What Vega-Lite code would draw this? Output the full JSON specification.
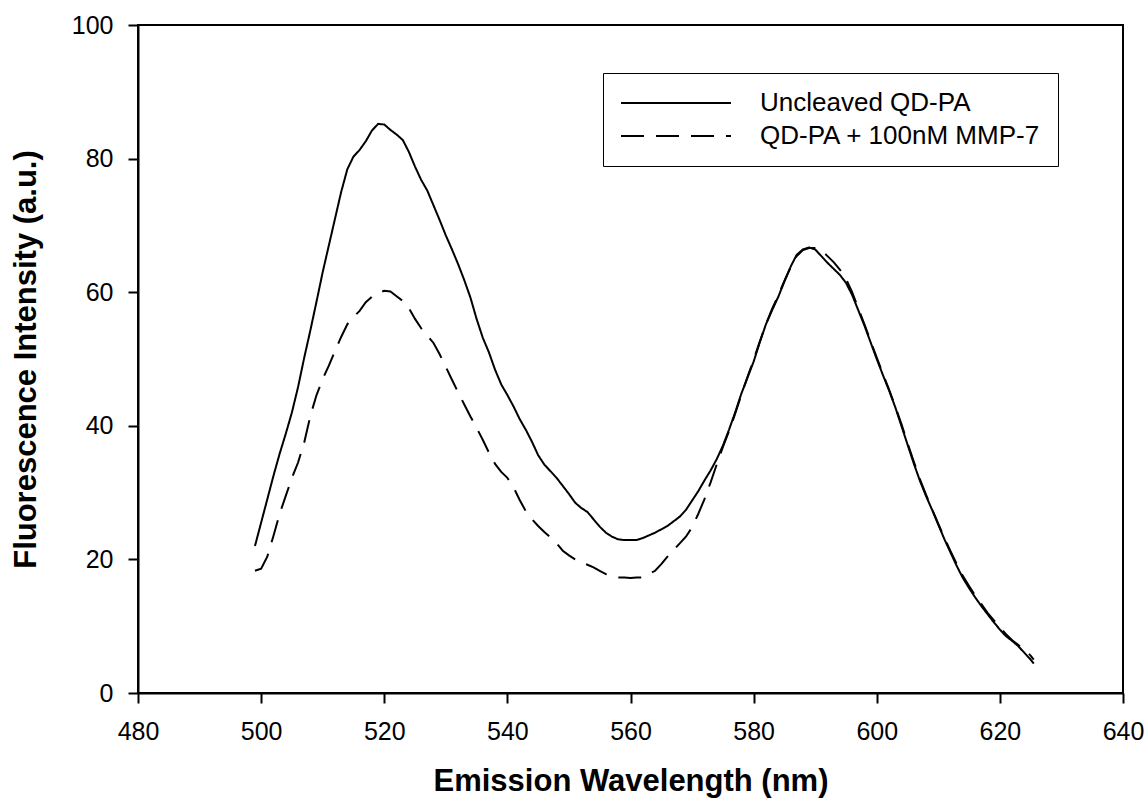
{
  "$schema": "https://vega.github.io/schema/vega-lite/v6.json",
  "width": 985,
  "height": 668,
  "autosize": {"type": "none"},
  "padding": {"left": 138, "top": 25, "right": 25, "bottom": 114},
  "background": "white",
  "config": {
    "view": {"stroke": "black", "strokeWidth": 2},
    "axis": {
      "grid": false,
      "domainColor": "black",
      "domainWidth": 2,
      "tickColor": "black",
      "tickWidth": 2,
      "tickSize": 10,
      "labelFont": "Liberation Sans",
      "labelFontSize": 25,
      "labelColor": "black",
      "titleFont": "Liberation Sans",
      "titleFontSize": 31,
      "titleFontWeight": "bold",
      "titleColor": "black"
    },
    "legend": {
      "labelFont": "Liberation Sans",
      "labelFontSize": 26,
      "labelColor": "black",
      "labelLimit": 500
    }
  },
  "data": {
    "values": [
      {"s":"Uncleaved QD-PA","w":499,"v":22.0},{"s":"Uncleaved QD-PA","w":500,"v":25.5},{"s":"Uncleaved QD-PA","w":501,"v":29.0},{"s":"Uncleaved QD-PA","w":502,"v":32.5},{"s":"Uncleaved QD-PA","w":503,"v":35.8},{"s":"Uncleaved QD-PA","w":504,"v":38.8},{"s":"Uncleaved QD-PA","w":505,"v":42.0},{"s":"Uncleaved QD-PA","w":506,"v":45.8},{"s":"Uncleaved QD-PA","w":507,"v":50.2},{"s":"Uncleaved QD-PA","w":508,"v":54.3},{"s":"Uncleaved QD-PA","w":509,"v":58.6},{"s":"Uncleaved QD-PA","w":510,"v":63.0},{"s":"Uncleaved QD-PA","w":511,"v":67.0},{"s":"Uncleaved QD-PA","w":512,"v":71.0},{"s":"Uncleaved QD-PA","w":513,"v":75.0},{"s":"Uncleaved QD-PA","w":514,"v":78.4},{"s":"Uncleaved QD-PA","w":515,"v":80.3},{"s":"Uncleaved QD-PA","w":516,"v":81.3},{"s":"Uncleaved QD-PA","w":517,"v":82.6},{"s":"Uncleaved QD-PA","w":518,"v":84.2},{"s":"Uncleaved QD-PA","w":519,"v":85.2},{"s":"Uncleaved QD-PA","w":520,"v":85.1},{"s":"Uncleaved QD-PA","w":521,"v":84.3},{"s":"Uncleaved QD-PA","w":522,"v":83.6},{"s":"Uncleaved QD-PA","w":523,"v":82.8},{"s":"Uncleaved QD-PA","w":524,"v":81.0},{"s":"Uncleaved QD-PA","w":525,"v":78.8},{"s":"Uncleaved QD-PA","w":526,"v":76.8},{"s":"Uncleaved QD-PA","w":527,"v":75.2},{"s":"Uncleaved QD-PA","w":528,"v":73.0},{"s":"Uncleaved QD-PA","w":529,"v":70.8},{"s":"Uncleaved QD-PA","w":530,"v":68.5},{"s":"Uncleaved QD-PA","w":531,"v":66.4},{"s":"Uncleaved QD-PA","w":532,"v":64.2},{"s":"Uncleaved QD-PA","w":533,"v":61.8},{"s":"Uncleaved QD-PA","w":534,"v":59.2},{"s":"Uncleaved QD-PA","w":535,"v":56.0},{"s":"Uncleaved QD-PA","w":536,"v":53.2},{"s":"Uncleaved QD-PA","w":537,"v":51.0},{"s":"Uncleaved QD-PA","w":538,"v":48.4},{"s":"Uncleaved QD-PA","w":539,"v":46.2},{"s":"Uncleaved QD-PA","w":540,"v":44.6},{"s":"Uncleaved QD-PA","w":541,"v":42.9},{"s":"Uncleaved QD-PA","w":542,"v":41.0},{"s":"Uncleaved QD-PA","w":543,"v":39.4},{"s":"Uncleaved QD-PA","w":544,"v":37.6},{"s":"Uncleaved QD-PA","w":545,"v":35.6},{"s":"Uncleaved QD-PA","w":546,"v":34.2},{"s":"Uncleaved QD-PA","w":547,"v":33.2},{"s":"Uncleaved QD-PA","w":548,"v":32.2},{"s":"Uncleaved QD-PA","w":549,"v":31.0},{"s":"Uncleaved QD-PA","w":550,"v":29.8},{"s":"Uncleaved QD-PA","w":551,"v":28.5},{"s":"Uncleaved QD-PA","w":552,"v":27.7},{"s":"Uncleaved QD-PA","w":553,"v":27.1},{"s":"Uncleaved QD-PA","w":554,"v":26.0},{"s":"Uncleaved QD-PA","w":555,"v":24.9},{"s":"Uncleaved QD-PA","w":556,"v":24.0},{"s":"Uncleaved QD-PA","w":557,"v":23.4},{"s":"Uncleaved QD-PA","w":558,"v":23.0},{"s":"Uncleaved QD-PA","w":559,"v":22.9},{"s":"Uncleaved QD-PA","w":560,"v":22.9},{"s":"Uncleaved QD-PA","w":561,"v":22.9},{"s":"Uncleaved QD-PA","w":562,"v":23.2},{"s":"Uncleaved QD-PA","w":563,"v":23.6},{"s":"Uncleaved QD-PA","w":564,"v":24.0},{"s":"Uncleaved QD-PA","w":565,"v":24.5},{"s":"Uncleaved QD-PA","w":566,"v":25.0},{"s":"Uncleaved QD-PA","w":567,"v":25.7},{"s":"Uncleaved QD-PA","w":568,"v":26.4},{"s":"Uncleaved QD-PA","w":569,"v":27.4},{"s":"Uncleaved QD-PA","w":570,"v":28.8},{"s":"Uncleaved QD-PA","w":571,"v":30.2},{"s":"Uncleaved QD-PA","w":572,"v":31.8},{"s":"Uncleaved QD-PA","w":573,"v":33.3},{"s":"Uncleaved QD-PA","w":574,"v":35.0},{"s":"Uncleaved QD-PA","w":575,"v":37.0},{"s":"Uncleaved QD-PA","w":576,"v":39.4},{"s":"Uncleaved QD-PA","w":577,"v":42.0},{"s":"Uncleaved QD-PA","w":578,"v":44.8},{"s":"Uncleaved QD-PA","w":579,"v":47.2},{"s":"Uncleaved QD-PA","w":580,"v":49.6},{"s":"Uncleaved QD-PA","w":581,"v":52.5},{"s":"Uncleaved QD-PA","w":582,"v":55.2},{"s":"Uncleaved QD-PA","w":583,"v":57.3},{"s":"Uncleaved QD-PA","w":584,"v":59.3},{"s":"Uncleaved QD-PA","w":585,"v":61.6},{"s":"Uncleaved QD-PA","w":586,"v":63.8},{"s":"Uncleaved QD-PA","w":587,"v":65.6},{"s":"Uncleaved QD-PA","w":588,"v":66.4},{"s":"Uncleaved QD-PA","w":589,"v":66.7},{"s":"Uncleaved QD-PA","w":590,"v":66.4},{"s":"Uncleaved QD-PA","w":591,"v":65.4},{"s":"Uncleaved QD-PA","w":592,"v":64.4},{"s":"Uncleaved QD-PA","w":593,"v":63.5},{"s":"Uncleaved QD-PA","w":594,"v":62.6},{"s":"Uncleaved QD-PA","w":595,"v":61.4},{"s":"Uncleaved QD-PA","w":596,"v":59.6},{"s":"Uncleaved QD-PA","w":597,"v":57.3},{"s":"Uncleaved QD-PA","w":598,"v":55.0},{"s":"Uncleaved QD-PA","w":599,"v":52.5},{"s":"Uncleaved QD-PA","w":600,"v":50.0},{"s":"Uncleaved QD-PA","w":601,"v":47.6},{"s":"Uncleaved QD-PA","w":602,"v":45.3},{"s":"Uncleaved QD-PA","w":603,"v":42.8},{"s":"Uncleaved QD-PA","w":604,"v":40.0},{"s":"Uncleaved QD-PA","w":605,"v":37.2},{"s":"Uncleaved QD-PA","w":606,"v":34.4},{"s":"Uncleaved QD-PA","w":607,"v":31.8},{"s":"Uncleaved QD-PA","w":608,"v":29.5},{"s":"Uncleaved QD-PA","w":609,"v":27.4},{"s":"Uncleaved QD-PA","w":610,"v":25.2},{"s":"Uncleaved QD-PA","w":611,"v":23.0},{"s":"Uncleaved QD-PA","w":612,"v":21.0},{"s":"Uncleaved QD-PA","w":613,"v":19.0},{"s":"Uncleaved QD-PA","w":614,"v":17.2},{"s":"Uncleaved QD-PA","w":615,"v":15.7},{"s":"Uncleaved QD-PA","w":616,"v":14.3},{"s":"Uncleaved QD-PA","w":617,"v":13.0},{"s":"Uncleaved QD-PA","w":618,"v":11.8},{"s":"Uncleaved QD-PA","w":619,"v":10.6},{"s":"Uncleaved QD-PA","w":620,"v":9.5},{"s":"Uncleaved QD-PA","w":621,"v":8.5},{"s":"Uncleaved QD-PA","w":622,"v":7.8},{"s":"Uncleaved QD-PA","w":623,"v":7.0},{"s":"Uncleaved QD-PA","w":624,"v":6.0},{"s":"Uncleaved QD-PA","w":625,"v":5.0},{"s":"Uncleaved QD-PA","w":625.5,"v":4.4},
      {"s":"QD-PA + 100nM MMP-7","w":499,"v":18.3},{"s":"QD-PA + 100nM MMP-7","w":500,"v":18.6},{"s":"QD-PA + 100nM MMP-7","w":501,"v":20.4},{"s":"QD-PA + 100nM MMP-7","w":502,"v":23.5},{"s":"QD-PA + 100nM MMP-7","w":503,"v":26.8},{"s":"QD-PA + 100nM MMP-7","w":504,"v":29.5},{"s":"QD-PA + 100nM MMP-7","w":505,"v":32.2},{"s":"QD-PA + 100nM MMP-7","w":506,"v":34.5},{"s":"QD-PA + 100nM MMP-7","w":507,"v":37.5},{"s":"QD-PA + 100nM MMP-7","w":508,"v":41.5},{"s":"QD-PA + 100nM MMP-7","w":509,"v":44.6},{"s":"QD-PA + 100nM MMP-7","w":510,"v":47.0},{"s":"QD-PA + 100nM MMP-7","w":511,"v":49.0},{"s":"QD-PA + 100nM MMP-7","w":512,"v":51.2},{"s":"QD-PA + 100nM MMP-7","w":513,"v":53.3},{"s":"QD-PA + 100nM MMP-7","w":514,"v":55.2},{"s":"QD-PA + 100nM MMP-7","w":515,"v":56.3},{"s":"QD-PA + 100nM MMP-7","w":516,"v":57.2},{"s":"QD-PA + 100nM MMP-7","w":517,"v":58.5},{"s":"QD-PA + 100nM MMP-7","w":518,"v":59.3},{"s":"QD-PA + 100nM MMP-7","w":519,"v":59.9},{"s":"QD-PA + 100nM MMP-7","w":520,"v":60.2},{"s":"QD-PA + 100nM MMP-7","w":521,"v":60.1},{"s":"QD-PA + 100nM MMP-7","w":522,"v":59.4},{"s":"QD-PA + 100nM MMP-7","w":523,"v":58.7},{"s":"QD-PA + 100nM MMP-7","w":524,"v":57.6},{"s":"QD-PA + 100nM MMP-7","w":525,"v":56.0},{"s":"QD-PA + 100nM MMP-7","w":526,"v":54.6},{"s":"QD-PA + 100nM MMP-7","w":527,"v":53.5},{"s":"QD-PA + 100nM MMP-7","w":528,"v":52.4},{"s":"QD-PA + 100nM MMP-7","w":529,"v":50.7},{"s":"QD-PA + 100nM MMP-7","w":530,"v":48.8},{"s":"QD-PA + 100nM MMP-7","w":531,"v":46.9},{"s":"QD-PA + 100nM MMP-7","w":532,"v":45.0},{"s":"QD-PA + 100nM MMP-7","w":533,"v":43.2},{"s":"QD-PA + 100nM MMP-7","w":534,"v":41.4},{"s":"QD-PA + 100nM MMP-7","w":535,"v":39.7},{"s":"QD-PA + 100nM MMP-7","w":536,"v":37.9},{"s":"QD-PA + 100nM MMP-7","w":537,"v":36.0},{"s":"QD-PA + 100nM MMP-7","w":538,"v":34.3},{"s":"QD-PA + 100nM MMP-7","w":539,"v":33.1},{"s":"QD-PA + 100nM MMP-7","w":540,"v":32.2},{"s":"QD-PA + 100nM MMP-7","w":541,"v":30.8},{"s":"QD-PA + 100nM MMP-7","w":542,"v":28.9},{"s":"QD-PA + 100nM MMP-7","w":543,"v":27.2},{"s":"QD-PA + 100nM MMP-7","w":544,"v":26.0},{"s":"QD-PA + 100nM MMP-7","w":545,"v":25.0},{"s":"QD-PA + 100nM MMP-7","w":546,"v":24.1},{"s":"QD-PA + 100nM MMP-7","w":547,"v":23.3},{"s":"QD-PA + 100nM MMP-7","w":548,"v":22.4},{"s":"QD-PA + 100nM MMP-7","w":549,"v":21.3},{"s":"QD-PA + 100nM MMP-7","w":550,"v":20.6},{"s":"QD-PA + 100nM MMP-7","w":551,"v":20.0},{"s":"QD-PA + 100nM MMP-7","w":552,"v":19.6},{"s":"QD-PA + 100nM MMP-7","w":553,"v":19.2},{"s":"QD-PA + 100nM MMP-7","w":554,"v":18.8},{"s":"QD-PA + 100nM MMP-7","w":555,"v":18.3},{"s":"QD-PA + 100nM MMP-7","w":556,"v":17.8},{"s":"QD-PA + 100nM MMP-7","w":557,"v":17.5},{"s":"QD-PA + 100nM MMP-7","w":558,"v":17.3},{"s":"QD-PA + 100nM MMP-7","w":559,"v":17.3},{"s":"QD-PA + 100nM MMP-7","w":560,"v":17.2},{"s":"QD-PA + 100nM MMP-7","w":561,"v":17.3},{"s":"QD-PA + 100nM MMP-7","w":562,"v":17.3},{"s":"QD-PA + 100nM MMP-7","w":563,"v":17.8},{"s":"QD-PA + 100nM MMP-7","w":564,"v":18.3},{"s":"QD-PA + 100nM MMP-7","w":565,"v":19.3},{"s":"QD-PA + 100nM MMP-7","w":566,"v":20.4},{"s":"QD-PA + 100nM MMP-7","w":567,"v":21.4},{"s":"QD-PA + 100nM MMP-7","w":568,"v":22.4},{"s":"QD-PA + 100nM MMP-7","w":569,"v":23.4},{"s":"QD-PA + 100nM MMP-7","w":570,"v":24.8},{"s":"QD-PA + 100nM MMP-7","w":571,"v":26.8},{"s":"QD-PA + 100nM MMP-7","w":572,"v":29.0},{"s":"QD-PA + 100nM MMP-7","w":573,"v":31.5},{"s":"QD-PA + 100nM MMP-7","w":574,"v":34.2},{"s":"QD-PA + 100nM MMP-7","w":575,"v":36.8},{"s":"QD-PA + 100nM MMP-7","w":576,"v":39.2},{"s":"QD-PA + 100nM MMP-7","w":577,"v":41.8},{"s":"QD-PA + 100nM MMP-7","w":578,"v":44.6},{"s":"QD-PA + 100nM MMP-7","w":579,"v":47.3},{"s":"QD-PA + 100nM MMP-7","w":580,"v":49.9},{"s":"QD-PA + 100nM MMP-7","w":581,"v":52.6},{"s":"QD-PA + 100nM MMP-7","w":582,"v":55.2},{"s":"QD-PA + 100nM MMP-7","w":583,"v":57.5},{"s":"QD-PA + 100nM MMP-7","w":584,"v":59.5},{"s":"QD-PA + 100nM MMP-7","w":585,"v":61.7},{"s":"QD-PA + 100nM MMP-7","w":586,"v":63.7},{"s":"QD-PA + 100nM MMP-7","w":587,"v":65.4},{"s":"QD-PA + 100nM MMP-7","w":588,"v":66.3},{"s":"QD-PA + 100nM MMP-7","w":589,"v":66.6},{"s":"QD-PA + 100nM MMP-7","w":590,"v":66.6},{"s":"QD-PA + 100nM MMP-7","w":591,"v":66.3},{"s":"QD-PA + 100nM MMP-7","w":592,"v":65.4},{"s":"QD-PA + 100nM MMP-7","w":593,"v":64.5},{"s":"QD-PA + 100nM MMP-7","w":594,"v":63.4},{"s":"QD-PA + 100nM MMP-7","w":595,"v":62.0},{"s":"QD-PA + 100nM MMP-7","w":596,"v":60.0},{"s":"QD-PA + 100nM MMP-7","w":597,"v":57.6},{"s":"QD-PA + 100nM MMP-7","w":598,"v":55.2},{"s":"QD-PA + 100nM MMP-7","w":599,"v":52.7},{"s":"QD-PA + 100nM MMP-7","w":600,"v":50.2},{"s":"QD-PA + 100nM MMP-7","w":601,"v":47.8},{"s":"QD-PA + 100nM MMP-7","w":602,"v":45.4},{"s":"QD-PA + 100nM MMP-7","w":603,"v":42.9},{"s":"QD-PA + 100nM MMP-7","w":604,"v":40.3},{"s":"QD-PA + 100nM MMP-7","w":605,"v":37.4},{"s":"QD-PA + 100nM MMP-7","w":606,"v":34.7},{"s":"QD-PA + 100nM MMP-7","w":607,"v":32.0},{"s":"QD-PA + 100nM MMP-7","w":608,"v":29.7},{"s":"QD-PA + 100nM MMP-7","w":609,"v":27.5},{"s":"QD-PA + 100nM MMP-7","w":610,"v":25.3},{"s":"QD-PA + 100nM MMP-7","w":611,"v":23.2},{"s":"QD-PA + 100nM MMP-7","w":612,"v":21.2},{"s":"QD-PA + 100nM MMP-7","w":613,"v":19.3},{"s":"QD-PA + 100nM MMP-7","w":614,"v":17.5},{"s":"QD-PA + 100nM MMP-7","w":615,"v":16.0},{"s":"QD-PA + 100nM MMP-7","w":616,"v":14.6},{"s":"QD-PA + 100nM MMP-7","w":617,"v":13.3},{"s":"QD-PA + 100nM MMP-7","w":618,"v":12.0},{"s":"QD-PA + 100nM MMP-7","w":619,"v":10.9},{"s":"QD-PA + 100nM MMP-7","w":620,"v":9.8},{"s":"QD-PA + 100nM MMP-7","w":621,"v":8.8},{"s":"QD-PA + 100nM MMP-7","w":622,"v":7.9},{"s":"QD-PA + 100nM MMP-7","w":623,"v":7.2},{"s":"QD-PA + 100nM MMP-7","w":624,"v":6.4},{"s":"QD-PA + 100nM MMP-7","w":625,"v":5.6},{"s":"QD-PA + 100nM MMP-7","w":625.5,"v":5.0}
    ]
  },
  "mark": {"type": "line", "color": "black", "strokeWidth": 2},
  "encoding": {
    "x": {
      "field": "w",
      "type": "quantitative",
      "title": "Emission Wavelength (nm)",
      "scale": {"domain": [480, 640], "nice": false, "zero": false},
      "axis": {"values": [480, 500, 520, 540, 560, 580, 600, 620, 640], "labelPadding": 16, "titlePadding": 22, "labelFlush": false}
    },
    "y": {
      "field": "v",
      "type": "quantitative",
      "title": "Fluorescence Intensity (a.u.)",
      "scale": {"domain": [0, 100], "nice": false},
      "axis": {"values": [0, 20, 40, 60, 80, 100], "labelPadding": 15, "titlePadding": 29, "labelFlush": false}
    },
    "strokeDash": {
      "field": "s",
      "type": "nominal",
      "scale": {"domain": ["Uncleaved QD-PA", "QD-PA + 100nM MMP-7"], "range": [[1, 0], [23, 12]]},
      "legend": {
        "title": null,
        "orient": "none",
        "legendX": 465,
        "legendY": 48,
        "strokeColor": "black",
        "padding": 17,
        "symbolType": "stroke",
        "symbolSize": 12100,
        "symbolStrokeWidth": 2,
        "symbolStrokeColor": "black",
        "clipHeight": 26,
        "rowPadding": 7,
        "labelOffset": 28,
        "labelLimit": 500
      }
    }
  }
}
